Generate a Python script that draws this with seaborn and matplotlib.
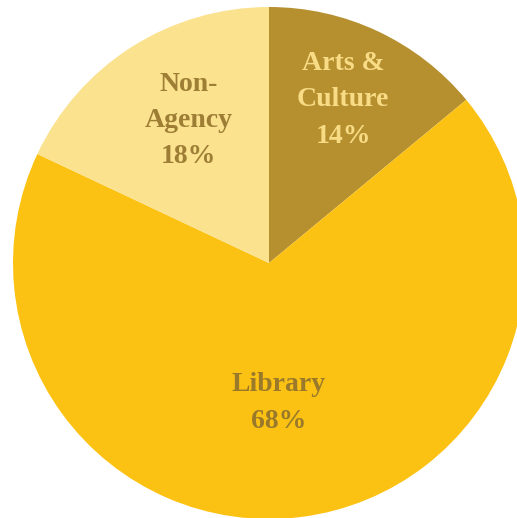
import numpy as np
import matplotlib
matplotlib.use("Agg")
import matplotlib.pyplot as plt
import seaborn as sns

sns.set_theme(style="white")
plt.rcParams["font.family"] = ["Liberation Serif", "DejaVu Serif"]

categories = ["Arts &\nCulture", "Library", "Non-\nAgency"]
shares = [14, 68, 18]
slice_colors = ["#B68F2F", "#FCC213", "#FBE28E"]
text_colors = ["#F8DB85", "#9A7A2A", "#9E7E35"]
# radial position of each label (fraction of radius) and angular nudge in degrees
label_radius = [0.70, 0.548, 0.64]
label_turn = [0.8, -3.1, -2.9]

W, H = 517, 518
fig = plt.figure(figsize=(W / 100, H / 100), dpi=100)
ax = fig.add_axes([0, 0, 1, 1])

cx, cy, r = 269, H - 263, 256
wedges, _ = ax.pie(shares, colors=slice_colors, startangle=90, counterclock=False,
                   center=(cx, cy), radius=r, frame=True,
                   wedgeprops=dict(linewidth=0, antialiased=True))
ax.set_xlim(0, W)
ax.set_ylim(0, H)
ax.set_aspect("equal")
ax.axis("off")

for w, name, val, tc, lr, dt in zip(wedges, categories, shares, text_colors,
                                    label_radius, label_turn):
    ang = np.deg2rad((w.theta1 + w.theta2) / 2 + dt)
    x = cx + lr * r * np.cos(ang)
    y = cy + lr * r * np.sin(ang)
    ax.text(x, y, f"{name}\n{val}%", ha="center", va="center", color=tc,
            fontsize=20, fontweight="bold", linespacing=1.6)

fig.savefig("out.png", dpi=100, facecolor="white")
